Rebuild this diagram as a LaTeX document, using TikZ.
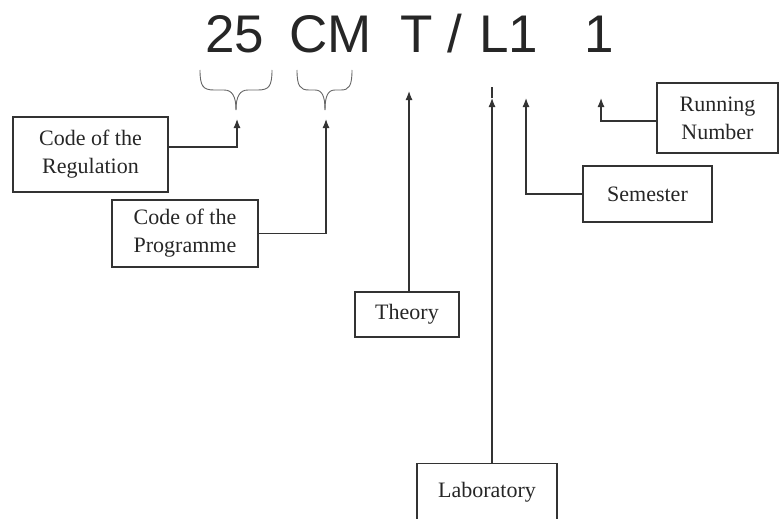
\documentclass[tikz,border=0pt]{standalone}
\usepackage{fontspec}
\setmainfont{Liberation Serif}
\newfontfamily\codefont{Liberation Sans}
\usetikzlibrary{arrows.meta}

\begin{document}
\begin{tikzpicture}[x=1pt,y=-1pt,
  lbl/.style={draw=black!80, line width=1.2pt, align=center, inner sep=0pt,
    font=\fontsize{22}{28}\selectfont, text=black!85},
  code/.style={anchor=base west, inner sep=0pt,
    font=\codefont\fontsize{53}{60}\selectfont, text=black!85},
  conn/.style={draw=black!80, line width=1.2pt, -{Latex[length=9pt,width=7pt]}},
  brc/.style={draw=black!60, line width=.9pt}]
\useasboundingbox (0,0) rectangle (779,519);
% the code on top
\node[code] (yr) at (205,53) {25};
\node[code] (prg) at (289,53) {CM};
\node[code] (th) at (400,53) {T};
\node[code] (sl) at (447,53) {/};
\node[code] (lb) at (479,53) {L1};
\node[code] (rn) at (584,53) {1};
% braces
\draw[brc] (200,70) .. controls (200,86) and (203,90) .. (214,90) -- (224,90) .. controls (232,90) and (236,96) .. (236,110);
\draw[brc] (272,70) .. controls (272,86) and (269,90) .. (258,90) -- (248,90) .. controls (240,90) and (236,96) .. (236,110);
\draw[brc] (297,70) .. controls (297,86) and (300,90) .. (309,90) -- (315,90) .. controls (322,90) and (325,96) .. (325,110);
\draw[brc] (352,70) .. controls (352,86) and (349,90) .. (341,90) -- (335,90) .. controls (328,90) and (325,96) .. (325,110);
% boxes
\node[lbl, minimum width=155pt, minimum height=75pt] (reg) at (90.5,154.5) {Code of the\\Regulation};
\node[lbl, minimum width=146pt, minimum height=67pt] (prog) at (185,233.5) {Code of the\\Programme};
\node[lbl, minimum width=104pt, minimum height=45pt] (theo) at (407,314.5) {Theory};
\node[lbl, minimum width=140pt, minimum height=58pt, anchor=north] (lab) at (487,463) {Laboratory};
\node[lbl, minimum width=129pt, minimum height=56pt] (sem) at (647.5,194) {Semester};
\node[lbl, minimum width=121pt, minimum height=70pt] (run) at (717.5,118) {Running\\Number};
% arrow ends
\coordinate (rT) at (237,119);
\coordinate (pT) at (326,119);
\coordinate (tT) at (409,91);
\coordinate (lT) at (492,98);
\coordinate (lE) at (492,87);
\coordinate (sT) at (526,98);
\coordinate (nT) at (601,98);
% connectors
\draw[conn] ([yshift=7.5pt]reg.east) -| (rT);
\draw[conn] (prog.east) -| (pT);
\draw[conn] ([xshift=2pt]theo.north) -- (tT);
\draw[conn] ([xshift=5pt]lab.north) -- (lT);
\draw[draw=black!80, line width=1.2pt] (lT) -- (lE);
\draw[conn] (sem.west) -| (sT);
\draw[conn] ([yshift=-3pt]run.west) -| (nT);
\end{tikzpicture}
\end{document}
